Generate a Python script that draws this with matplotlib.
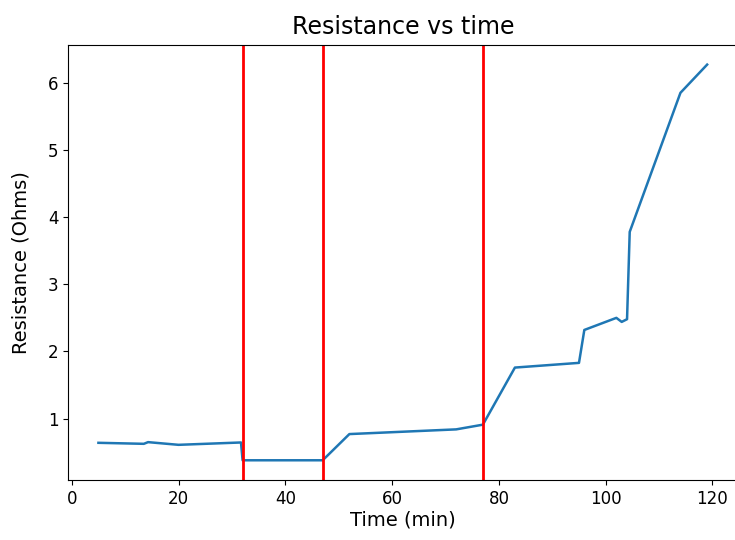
import matplotlib
matplotlib.use("Agg")
import matplotlib.pyplot as plt

# ----- DATA -----
time_min = [5, 13.5, 14.3, 20, 31.7, 32, 47, 52, 72, 77, 83, 95, 96, 102, 103, 104, 104.5, 114, 119]
resistance = [0.64, 0.625, 0.65, 0.61, 0.645, 0.38, 0.38, 0.77, 0.84, 0.91, 1.76, 1.83, 2.32,
              2.50, 2.44, 2.48, 3.78, 5.85, 6.27]
event_times = [32, 47, 77]
# ----------------

fig = plt.figure(figsize=(7.35, 5.4), dpi=100)
ax = fig.add_axes([0.0925, 0.111, 0.911, 0.806])

ax.plot(time_min, resistance, color="#1f77b4", linewidth=1.8)
for t in event_times:
    ax.axvline(t, color="r", linewidth=2)

ax.set_title("Resistance vs time", fontsize=17, pad=8)
ax.set_xlabel("Time (min)", fontsize=14, labelpad=2)
ax.set_ylabel("Resistance (Ohms)", fontsize=14, labelpad=12)
ax.tick_params(labelsize=12)

fig.savefig("out.png", dpi=100)
